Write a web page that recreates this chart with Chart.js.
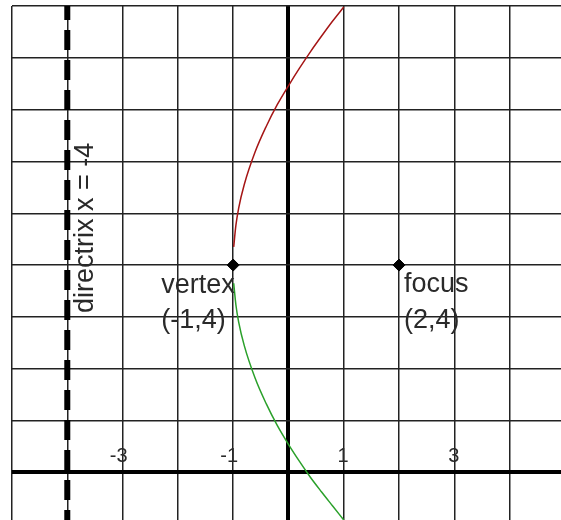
<!DOCTYPE html>
<html lang="en">
<head>
    <meta charset="UTF-8">
    <title>Parabola</title>
    <script src="https://cdn.jsdelivr.net/npm/chart.js"></script>
    <style>
        body {
            margin: 0;
            background: white;
        }
        .chart-container {
            width: 561px;
            height: 520px;
        }
    </style>
</head>
<body>
<div class="chart-container">
    <canvas id="parabolaChart"></canvas>
</div>

<script>
    // grid lines and labelled ticks
    const xGrid = [-5, -4, -3, -2, -1, 0, 1, 2, 3, 4];
    const yGrid = [0, 1, 2, 3, 4, 5, 6, 7, 8, 9];
    const xTickLabels = [-3, -1, 1, 3];

    // the two branches of the parabola
    const branchX = [-0.99, -0.95, -0.9, -0.8, -0.6, -0.4, -0.2, 0, 0.2, 0.4, 0.6, 0.8, 1];
    const upperY = [4.35, 4.77, 5.10, 5.55, 6.19, 6.68, 7.10, 7.46, 7.80, 8.12, 8.42, 8.71, 8.98];
    const lowerY = [3.65, 3.23, 2.90, 2.45, 1.81, 1.32, 0.90, 0.54, 0.21, -0.10, -0.38, -0.65, -0.92];

    const vertex = {x: -1, y: 4};
    const focus = {x: 2, y: 4};
    const directrixX = -4;

    const vertexLabel = ['vertex', '(-1,4)'];
    const focusLabel = ['focus', '(2,4)'];
    const directrixLabel = 'directrix x = -4';

    const FONT = '"Liberation Sans", Arial, Helvetica, sans-serif';

    const textPlugin = {
        id: 'textPlugin',
        afterDatasetsDraw(chart) {
            const ctx = chart.ctx;
            const xs = chart.scales.x;
            const ys = chart.scales.y;
            ctx.save();
            ctx.fillStyle = '#2a2a2a';

            // tick numbers above the x axis
            ctx.font = '20px ' + FONT;
            ctx.textAlign = 'right';
            ctx.textBaseline = 'alphabetic';
            const axisY = ys.getPixelForValue(0);
            xTickLabels.forEach(v => {
                ctx.fillText(String(v), xs.getPixelForValue(v) + 5, axisY - 10);
            });

            ctx.font = '27px ' + FONT;
            ctx.textAlign = 'left';
            const vx = xs.getPixelForValue(vertex.x);
            const vy = ys.getPixelForValue(vertex.y);
            ctx.fillText(vertexLabel[0], vx - 72, vy + 28);
            ctx.fillText(vertexLabel[1], vx - 72, vy + 63);

            const fx = xs.getPixelForValue(focus.x);
            const fy = ys.getPixelForValue(focus.y);
            ctx.fillText(focusLabel[0], fx + 5, fy + 27);
            ctx.fillText(focusLabel[1], fx + 5, fy + 63);

            // directrix label, reading bottom to top
            ctx.translate(xs.getPixelForValue(directrixX) + 26, vy + 48);
            ctx.rotate(-Math.PI / 2);
            ctx.fillText(directrixLabel, 0, 0);
            ctx.restore();
        }
    };

    function gridColor(c) {
        return c.tick && c.tick.value === 0 ? '#000' : '#222';
    }

    function gridWidth(c) {
        return c.tick && c.tick.value === 0 ? 4 : 1.5;
    }

    const ctx = document.getElementById('parabolaChart').getContext('2d');
    new Chart(ctx, {
        type: 'line',
        data: {
            datasets: [
                {
                    // drawn top to bottom so the dash pattern lines up
                    data: [{x: directrixX, y: 9}, {x: directrixX, y: -1}],
                    borderColor: '#000',
                    borderWidth: 6,
                    borderDash: [20, 10],
                    borderDashOffset: 6,
                    pointRadius: 0
                },
                {
                    data: branchX.map((x, i) => ({x: x, y: upperY[i]})),
                    borderColor: '#a51515',
                    borderWidth: 1.5,
                    cubicInterpolationMode: 'monotone',
                    pointRadius: 0
                },
                {
                    data: branchX.map((x, i) => ({x: x, y: lowerY[i]})),
                    borderColor: '#2aa02a',
                    borderWidth: 1.5,
                    cubicInterpolationMode: 'monotone',
                    pointRadius: 0
                },
                {
                    data: [vertex, focus],
                    showLine: false,
                    pointStyle: 'rectRot',
                    pointRadius: 6,
                    backgroundColor: '#000',
                    borderColor: '#000'
                }
            ]
        },
        options: {
            responsive: true,
            maintainAspectRatio: false,
            animation: false,
            layout: {
                autoPadding: false,
                padding: {left: 12, top: 6, right: 0, bottom: 0}
            },
            plugins: {
                legend: {display: false},
                tooltip: {enabled: false}
            },
            scales: {
                x: {
                    type: 'linear',
                    min: -5,
                    max: 4.93,
                    afterBuildTicks: scale => {
                        scale.ticks = xGrid.map(v => ({value: v}));
                    },
                    ticks: {display: false},
                    border: {display: false},
                    grid: {drawTicks: false, color: gridColor, lineWidth: gridWidth}
                },
                y: {
                    type: 'linear',
                    min: -0.92,
                    max: 9,
                    afterBuildTicks: scale => {
                        scale.ticks = yGrid.map(v => ({value: v}));
                    },
                    ticks: {display: false},
                    border: {display: false},
                    grid: {drawTicks: false, color: gridColor, lineWidth: gridWidth}
                }
            }
        },
        plugins: [textPlugin]
    });
</script>
</body>
</html>
